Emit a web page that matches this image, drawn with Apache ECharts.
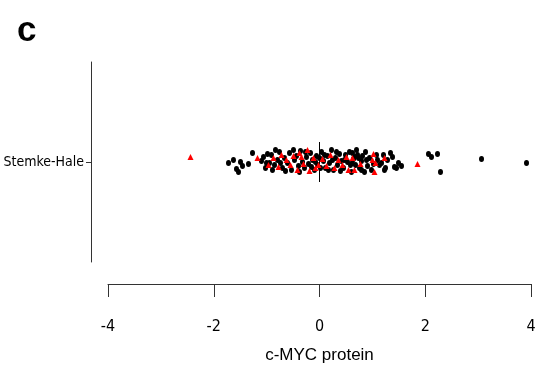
<!DOCTYPE html>
<html><head><meta charset="utf-8">
<script src="https://cdn.jsdelivr.net/npm/echarts@6/dist/echarts.min.js"></script>
<style>html,body{margin:0;padding:0;background:#fff}#c{width:537px;height:371px}</style>
</head><body><div id="c"></div>
<script>
const panelLabel = 'c';
const categoryLabel = 'Stemke-Hale';
const xTitle = 'c-MYC protein';
const xTicks = [-4, -2, 0, 2, 4];

// black dots: c-MYC protein values and vertical jitter around row 1
const blackX = [-1.721,-1.627,-1.570,-1.532,-1.494,-1.456,-1.343,-1.267,-1.097,-1.059,-1.021,-1.002,-0.983,-0.946,-0.908,-0.889,-0.851,-0.832,-0.794,-0.757,-0.738,-0.700,-0.662,-0.643,-0.605,-0.567,-0.530,-0.492,-0.473,-0.435,-0.397,-0.378,-0.359,-0.322,-0.284,-0.265,-0.246,-0.208,-0.170,-0.151,-0.132,-0.095,-0.076,-0.057,-0.038,0.000,0.019,0.038,0.076,0.095,0.113,0.151,0.170,0.189,0.227,0.246,0.265,0.303,0.322,0.340,0.378,0.397,0.416,0.454,0.473,0.492,0.530,0.567,0.586,0.605,0.624,0.620,0.643,0.662,0.681,0.700,0.719,0.738,0.757,0.794,0.794,0.813,0.851,0.870,0.889,0.908,0.946,0.983,1.021,1.078,1.097,1.135,1.173,1.210,1.229,1.248,1.286,1.343,1.381,1.418,1.456,1.494,1.551,2.061,2.118,2.232,2.288,3.064,3.915];
const blackJ = [-0.01,0.02,-0.07,-0.10,0.00,-0.04,-0.02,0.09,0.01,0.05,-0.06,-0.01,0.08,-0.01,0.07,-0.08,-0.03,0.12,0.02,0.10,-0.01,-0.06,0.04,-0.09,-0.01,0.09,-0.08,0.12,0.02,0.06,-0.04,-0.10,0.11,0.00,-0.06,0.10,0.05,-0.02,0.09,-0.05,0.02,-0.08,0.00,0.06,-0.03,0.04,-0.06,0.10,0.01,0.07,-0.06,0.06,-0.08,-0.01,0.12,0.02,-0.08,0.04,0.10,-0.03,0.08,-0.09,0.01,-0.06,0.02,0.07,0.00,0.10,-0.03,-0.10,0.09,-0.01,0.03,0.05,-0.03,0.12,0.07,0.04,-0.06,0.01,-0.08,0.06,-0.10,0.10,0.02,-0.04,0.04,-0.08,-0.02,0.07,0.02,-0.03,-0.01,0.07,-0.08,-0.06,0.02,0.09,0.05,-0.05,-0.06,-0.01,-0.04,0.08,0.05,0.08,-0.10,0.03,-0.01];

// red triangles
const redX = [-2.440,-1.173,-0.965,-0.870,-0.775,-0.719,-0.624,-0.548,-0.492,-0.416,-0.378,-0.340,-0.303,-0.227,-0.189,-0.113,-0.076,-0.019,0.057,0.132,0.208,0.284,0.359,0.435,0.511,0.548,0.624,0.662,0.775,1.002,1.021,1.059,1.040,1.229,1.853];
const redJ = [0.05,0.04,-0.03,0.04,-0.05,0.07,0.02,-0.03,0.06,-0.08,0.09,0.05,-0.02,0.12,-0.09,0.04,-0.06,-0.03,0.03,-0.04,0.07,-0.06,0.02,-0.03,0.05,-0.08,0.04,-0.08,-0.02,0.02,0.08,-0.01,-0.10,0.04,-0.02];

const rowValue = 1;
const zeroLineSpan = [0.8, 1.2];

const black = blackX.map((x, i) => [x, rowValue + blackJ[i]]);
const red = redX.map((x, i) => [x, rowValue + redJ[i]]);

const narrow = "'Liberation Sans Narrow', 'DejaVu Sans Condensed', 'Liberation Sans', sans-serif";

const chart = echarts.init(document.getElementById('c'), null, {renderer: 'canvas'});
chart.setOption({
  animation: false,
  title: {text: panelLabel, left: 12, top: 9, textStyle: {fontFamily: 'Liberation Sans', fontWeight: 900, fontSize: 35, color: '#000'}},
  grid: {left: 108, right: 6, top: 62, bottom: 109, containLabel: false, outerBoundsMode: 'none'},
  xAxis: {
    type: 'value', min: xTicks[0], max: xTicks[xTicks.length - 1], interval: 2,
    offset: 22, splitLine: {show: false},
    axisLine: {show: true, onZero: false, lineStyle: {color: '#333', width: 1}},
    axisTick: {show: true, length: 13, inside: false, lineStyle: {color: '#333'}},
    axisLabel: {margin: 35, fontFamily: narrow, fontSize: 16, color: '#000'},
    name: xTitle, nameLocation: 'middle', nameGap: 63,
    nameTextStyle: {fontFamily: 'Liberation Sans', fontSize: 17, color: '#000'}
  },
  yAxis: {
    type: 'value', min: 0, max: 2, interval: 1, offset: 17,
    splitLine: {show: false},
    axisLine: {show: true, onZero: false, lineStyle: {color: '#333', width: 1}},
    axisTick: {show: true, length: 5, inside: false, customValues: [rowValue], lineStyle: {color: '#333'}},
    axisLabel: {customValues: [rowValue], formatter: () => categoryLabel, margin: 7, fontFamily: narrow, fontSize: 14, color: '#000'}
  },
  series: [
    {type: 'line', data: [[0, zeroLineSpan[0]], [0, zeroLineSpan[1]]], symbol: 'none', lineStyle: {color: '#000', width: 1}, silent: true, z: 1},
    {type: 'scatter', data: black, symbol: 'circle', symbolSize: [5, 6], itemStyle: {color: '#000', opacity: 1}, z: 2},
    {type: 'scatter', data: red, symbol: 'triangle', symbolSize: [6, 6], itemStyle: {color: '#ff0000', opacity: 1}, z: 3}
  ]
});
</script></body></html>
